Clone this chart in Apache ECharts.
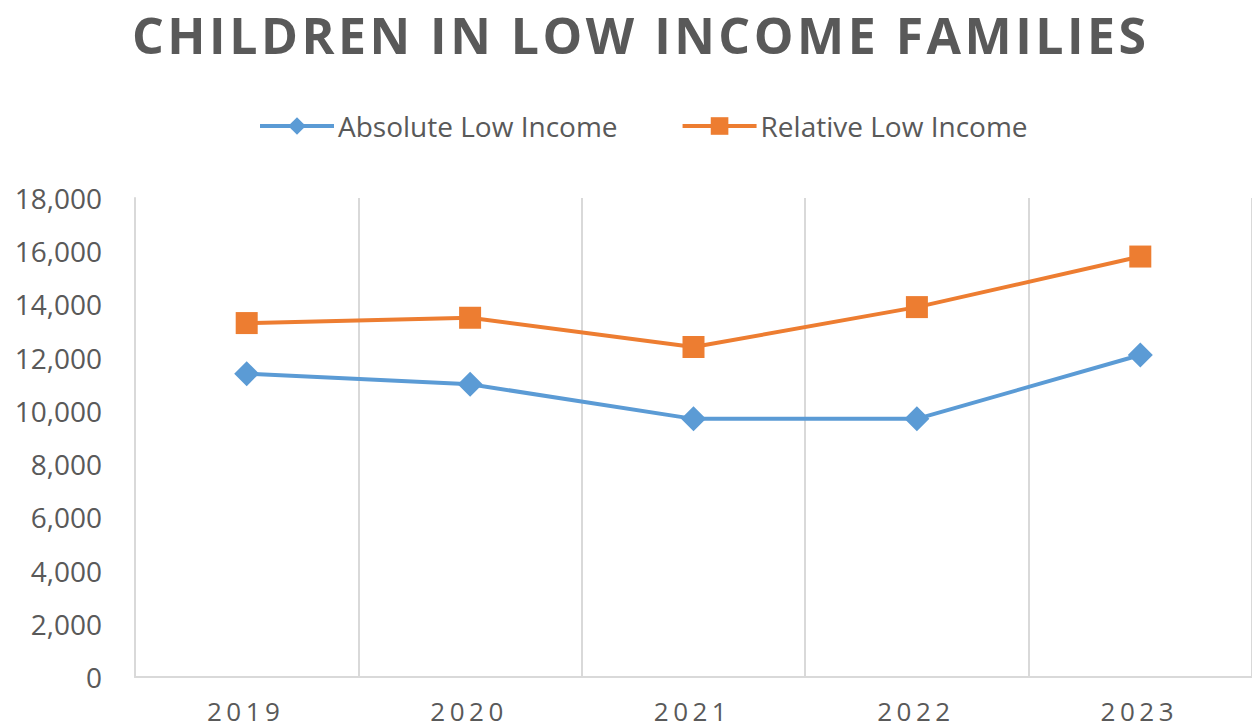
<!DOCTYPE html>
<html>
<head>
<meta charset="utf-8">
<script src="https://cdn.jsdelivr.net/npm/echarts@6/dist/echarts.min.js"></script>
<style>
  html, body { margin: 0; padding: 0; background: #ffffff; }
  #chart { width: 1252px; height: 727px; }
</style>
</head>
<body>
<div id="chart"></div>
<script>
// Children in low income families, by year
const years = ['2019', '2020', '2021', '2022', '2023'];
const absoluteLowIncome = [11400, 11000, 9700, 9700, 12100];
const relativeLowIncome = [13300, 13500, 12400, 13900, 15800];
const yMin = 0, yMax = 18000, yStep = 2000;

const titleText = 'CHILDREN IN LOW INCOME FAMILIES';
const textGrey = '#595959';
const gridGrey = '#D9D9D9';
const blue = '#5B9BD5';
const orange = '#ED7D31';
const font = '"Open Sans", "Noto Sans", sans-serif';

const chart = echarts.init(document.getElementById('chart'), null, { renderer: 'svg' });

chart.setOption({
  backgroundColor: '#ffffff',
  animation: false,
  title: {
    text: titleText,
    left: 127,
    top: 5,
    textStyle: { fontFamily: font, fontWeight: 'bold', fontSize: 50, color: textGrey }
  },
  legend: {
    top: 107,
    left: 253,
    itemWidth: 74,
    itemHeight: 22,
    itemGap: 63,
    textStyle: { fontFamily: font, fontSize: 28, color: textGrey, padding: [0, 0, 0, -1] },
    data: [
      { name: 'Absolute Low Income', lineStyle: { width: 4 } },
      { name: 'Relative Low Income', lineStyle: { width: 4 } }
    ]
  },
  grid: { left: 135, top: 198, width: 1120, height: 479, containLabel: false },
  xAxis: {
    type: 'category',
    data: years,
    boundaryGap: true,
    axisLine: { show: true, lineStyle: { color: gridGrey, width: 2 } },
    axisTick: { show: false },
    splitLine: { show: true, lineStyle: { color: gridGrey, width: 2 } },
    axisLabel: { fontFamily: font, fontSize: 26, lineHeight: 26, color: textGrey, margin: 21 }
  },
  yAxis: {
    type: 'value',
    min: yMin,
    max: yMax,
    interval: yStep,
    axisLine: { show: true, lineStyle: { color: gridGrey, width: 2 } },
    axisTick: { show: false },
    splitLine: { show: false },
    axisLabel: {
      fontFamily: font, fontSize: 28, color: textGrey, margin: 33,
      formatter: v => v.toLocaleString('en-US')
    }
  },
  series: [
    {
      name: 'Absolute Low Income',
      type: 'line',
      data: absoluteLowIncome,
      symbol: 'diamond',
      symbolSize: 25,
      color: blue,
      lineStyle: { width: 4, color: blue },
      itemStyle: { color: blue }
    },
    {
      name: 'Relative Low Income',
      type: 'line',
      data: relativeLowIncome,
      symbol: 'rect',
      symbolSize: 22,
      color: orange,
      lineStyle: { width: 4, color: orange },
      itemStyle: { color: orange }
    }
  ]
});

// Spaced-out lettering for the heading and the year labels
document.querySelectorAll('#chart text').forEach(t => {
  const s = t.textContent.trim();
  if (s === titleText) {
    t.style.letterSpacing = '3.5px';
  } else if (years.includes(s)) {
    t.style.letterSpacing = '4.5px';
    t.setAttribute('dx', '-1');
  }
});
</script>
</body>
</html>
